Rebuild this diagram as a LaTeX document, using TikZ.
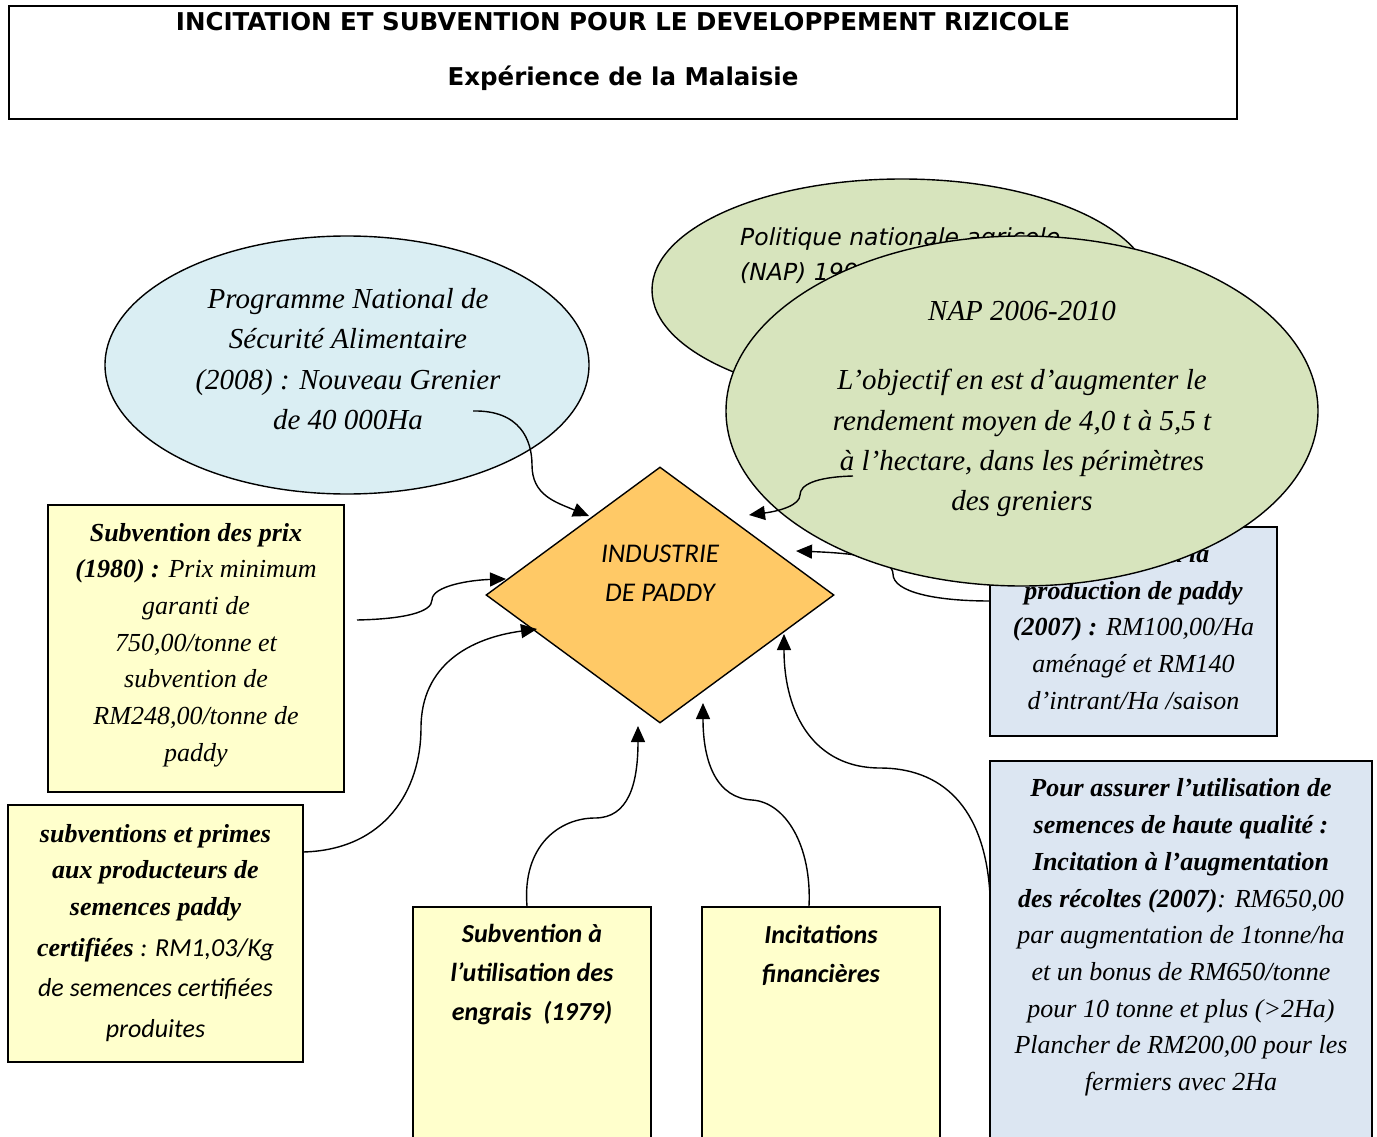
\documentclass[tikz,border=0pt]{standalone}
\usepackage{fontspec}
\setmainfont{Liberation Serif}
\newfontfamily\verdfont{DejaVu Sans}
\newfontfamily\califont{Carlito}
\usetikzlibrary{shapes.geometric,arrows.meta}
\definecolor{skyfill}{HTML}{DAEEF3}
\definecolor{leaf}{HTML}{D7E4BD}
\definecolor{amber}{HTML}{FFC966}
\definecolor{cream}{HTML}{FFFFCC}
\definecolor{steel}{HTML}{DCE6F2}

\begin{document}
\begin{tikzpicture}[x=1pt,y=-1pt,
  box/.style={draw, line width=1.6pt, rectangle, inner sep=0pt},
  oval/.style={draw, line width=1.4pt, ellipse, inner sep=0pt},
  arr/.style={-{Triangle[length=16pt,width=14pt]}, line width=1.4pt},
  serifbig/.style={font=\fontsize{29}{40.3}\selectfont\itshape, align=center},
  serifbox/.style={font=\fontsize{26}{36.7}\selectfont\itshape, align=center},
  calbox/.style={font=\fontsize{26}{39}\selectfont\califont\bfseries\itshape, align=center},
  headfont/.style={font=\fontsize{24.5}{28}\selectfont\verdfont\bfseries}
]
\fill[white] (0,0) rectangle (1377,1137);
\useasboundingbox (0,0) rectangle (1377,1137);

% heading
\node[box, minimum width=1228pt, minimum height=113pt] (title) at (623,62.5) {};
\node[headfont, inner sep=0pt] (head1) at (623,22) {INCITATION ET SUBVENTION POUR LE DEVELOPPEMENT RIZICOLE};
\node[headfont, inner sep=0pt] (head2) at (623,78) {Expérience de la Malaisie};

% food security programme
\node[oval, fill=skyfill, minimum width=484pt, minimum height=258pt] (pnsa) at (347,365) {};
\node[serifbig, inner sep=0pt] (pnsatxt) at (348,359)
  {Programme National de\\Sécurité Alimentaire\\(2008) : Nouveau Grenier\\de 40 000Ha};

% older national agricultural policy (partly hidden)
\node[oval, fill=leaf, minimum width=500pt, minimum height=222pt] (napold) at (902,290) {};
\node[anchor=north west, inner sep=0pt, align=left,
      font=\fontsize{23.5}{35}\selectfont\verdfont\itshape] (napoldtxt) at (740,227)
  {Politique nationale agricole\\(NAP) 1998-2010};

% production incentive box (partly hidden)
\node[box, fill=steel, minimum width=287pt, minimum height=209pt] (prod) at (1133.5,631.5) {};
\node[serifbox, inner sep=0pt] (prodtxt) at (1133.5,627)
  {\textbf{Incitation à la}\\\textbf{production de paddy}\\\textbf{(2007) :} RM100,00/Ha\\aménagé et RM140\\d’intrant/Ha /saison};

\coordinate (k3) at (990,601);
\coordinate (e3) at (796,551);
\draw[arr] (k3) .. controls (935,601) and (893,592) .. (893,574)
                .. controls (893,557) and (850,553) .. (e3);

% current national agricultural policy
\node[oval, fill=leaf, minimum width=592pt, minimum height=350pt] (nap) at (1022,411) {};
\node[serifbig, inner sep=0pt] (naptxt) at (1022,409)
  {NAP 2006-2010\\[29pt]L’objectif en est d’augmenter le\\rendement moyen de 4,0 t à 5,5 t\\à l’hectare, dans les périmètres\\des greniers};

% central diamond
\node[draw, line width=1.4pt, diamond, fill=amber, minimum width=348pt, minimum height=256pt, inner sep=0pt] (dia) at (660,595) {};
\node[font=\fontsize{27}{39}\selectfont\califont\itshape, align=center, inner sep=0pt] (diatxt) at (660,573)
  {INDUSTRIE\\DE PADDY};

% left boxes
\node[box, fill=cream, minimum width=296pt, minimum height=287pt] (prix) at (196,648.5) {};
\node[serifbox, inner sep=0pt] (prixtxt) at (196,645)
  {\textbf{Subvention des prix}\\\textbf{(1980) :} Prix minimum\\garanti de\\750,00/tonne et\\subvention de\\RM248,00/tonne de\\paddy};

\node[box, fill=cream, minimum width=295pt, minimum height=257pt] (sem) at (155.5,933.5) {};
\node[serifbox, inner sep=0pt] (semtxt) at (155.5,933)
  {\textbf{subventions et primes}\\\textbf{aux producteurs de}\\\textbf{semences paddy}\\[4pt]\textbf{certifiées} {\califont : RM1,03/Kg}\\[4pt]{\califont de semences certifiées}\\[4pt]{\califont produites}};

% bottom boxes
\node[box, fill=cream, minimum width=238pt, minimum height=263pt] (engr) at (532,1038.5) {};
\node[calbox, inner sep=0pt] (engrtxt) at (532,975) {Subvention à\\l’utilisation des\\engrais~~(1979)};

\node[box, fill=cream, minimum width=238pt, minimum height=263pt] (fin) at (821,1038.5) {};
\node[calbox, inner sep=0pt] (fintxt) at (821,955) {Incitations\\financières};

\node[box, fill=steel, minimum width=382pt, minimum height=409pt] (qual) at (1181,965.5) {};
\node[serifbox, inner sep=0pt] (qualtxt) at (1181,937.5)
  {\textbf{Pour assurer l’utilisation de}\\\textbf{semences de haute qualité :}\\\textbf{Incitation à l’augmentation}\\\textbf{des récoltes (2007)}: RM650,00\\par augmentation de 1tonne/ha\\et un bonus de RM650/tonne\\pour 10 tonne et plus (>2Ha)\\Plancher de RM200,00 pour les\\fermiers avec 2Ha};

% connectors
\coordinate (k1) at (473,411);
\coordinate (e1) at (589,516);
\draw[arr] (k1) .. controls (520,410) and (532,440) .. (532,465)
                .. controls (532,495) and (555,502) .. (e1);

\coordinate (k2) at (853,476);
\coordinate (e2) at (749,515);
\draw[arr] (k2) .. controls (815,477) and (800,485) .. (800,495)
                .. controls (800,505) and (780,511) .. (e2);

\coordinate (k4) at (357,620);
\coordinate (e4) at (506,579);
\draw[arr] (k4) .. controls (405,619) and (432,612) .. (432,600)
                .. controls (432,586) and (470,580) .. (e4);

\coordinate (k5) at (303,852);
\coordinate (e5) at (537,629);
\draw[arr] (k5) .. controls (385,850) and (421,790) .. (421,728)
                .. controls (421,665) and (470,638) .. (e5);

\coordinate (k6) at ([xshift=-5pt]engr.north);
\coordinate (e6) at (638,726);
\draw[arr] (k6) .. controls (522,845) and (560,818) .. (595,818)
                .. controls (628,818) and (638,785) .. (e6);

\coordinate (k7) at ([xshift=-12pt]fin.north);
\coordinate (e7) at (703,703);
\draw[arr] (k7) .. controls (812,845) and (785,802) .. (752,800)
                .. controls (718,798) and (703,765) .. (e7);

\coordinate (k8) at (990,895);
\coordinate (e8) at (784,634);
\draw[arr] (k8) .. controls (985,805) and (940,768) .. (880,768)
                .. controls (815,768) and (784,715) .. (e8);
\end{tikzpicture}
\end{document}
